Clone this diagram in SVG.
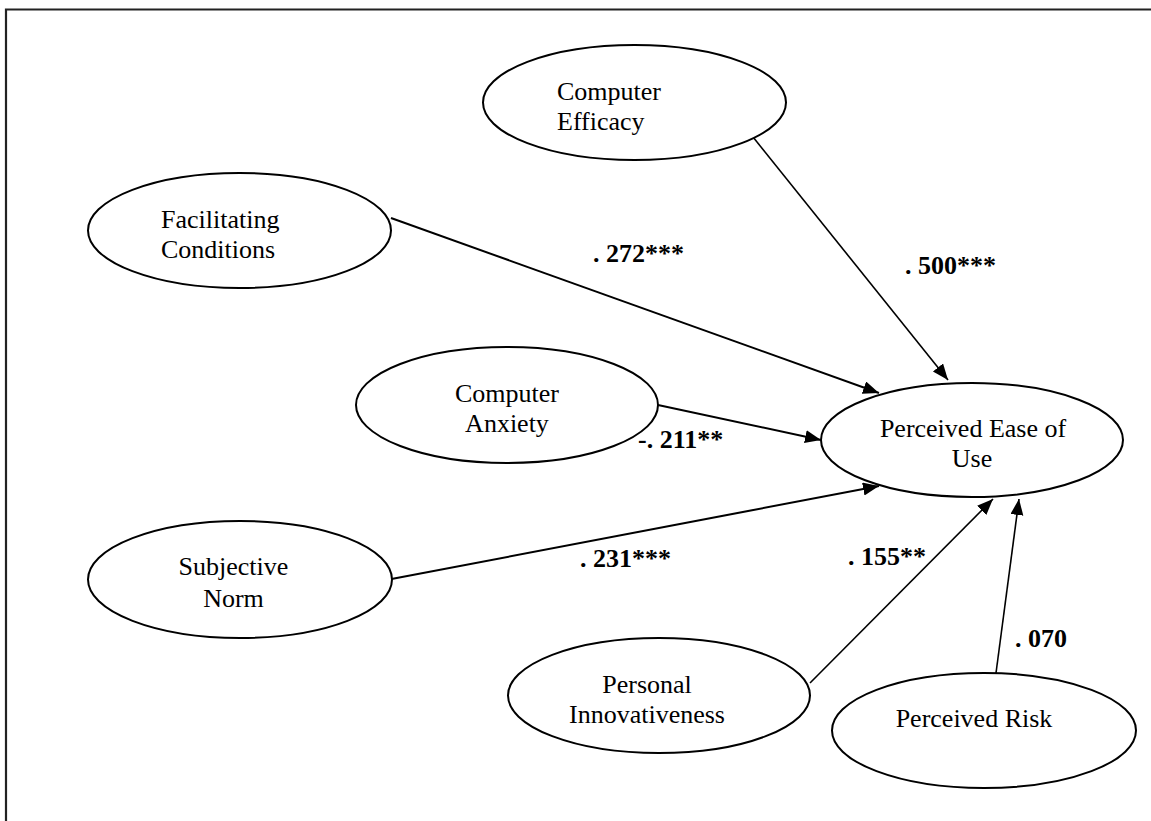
<svg xmlns="http://www.w3.org/2000/svg" width="1151" height="821" viewBox="0 0 1151 821">
<style>
.node ellipse{fill:#fff;stroke:#000;stroke-width:2}
.t{font-family:"Liberation Serif","Times New Roman",serif;font-size:26px;fill:#000}
.c{text-anchor:middle}
.lbl{font-family:"Liberation Serif","Times New Roman",serif;font-size:26px;font-weight:bold;fill:#000}
.edge{stroke:#000;fill:none;marker-end:url(#ah)}
</style>
<defs>
<marker id="ah" markerUnits="userSpaceOnUse" markerWidth="17" markerHeight="14" refX="16" refY="6.5" orient="auto">
<path d="M0,0 L16,6.5 L0,13 z" fill="#000"/>
</marker>
</defs>
<rect width="1151" height="821" fill="#fff"/>
<path d="M6,830 V9.5 H1160" fill="none" stroke="#222" stroke-width="2.2"/>
<g id="connectors">
<line class="edge" x1="753" y1="137" x2="948" y2="380" stroke-width="1.6"/>
<line class="edge" x1="391" y1="218" x2="879" y2="393" stroke-width="2"/>
<line class="edge" x1="658" y1="405" x2="821" y2="440" stroke-width="2"/>
<line class="edge" x1="391.5" y1="579" x2="879" y2="486" stroke-width="2"/>
<line class="edge" x1="810" y1="683" x2="993" y2="499" stroke-width="1.6"/>
<line class="edge" x1="996" y1="673" x2="1019" y2="499" stroke-width="1.6"/>
</g>
<g id="labels">
<text class="lbl" x="593" y="262">. 272***</text>
<text class="lbl" x="905" y="274">. 500***</text>
<text class="lbl" x="638" y="448">-. 211**</text>
<text class="lbl" x="580" y="567">. 231***</text>
<text class="lbl" x="848" y="565">. 155**</text>
<text class="lbl" x="1015" y="647">. 070</text>
</g>
<g id="computer-efficacy" class="node">
<ellipse cx="634.5" cy="102.5" rx="151.5" ry="57.5"/>
<text class="t" x="557" y="100">Computer</text>
<text class="t" x="557" y="130">Efficacy</text>
</g>
<g id="facilitating-conditions" class="node">
<ellipse cx="239.5" cy="230.5" rx="151.5" ry="57.5"/>
<text class="t" x="161" y="228">Facilitating</text>
<text class="t" x="161" y="258">Conditions</text>
</g>
<g id="computer-anxiety" class="node">
<ellipse cx="507" cy="405" rx="151" ry="58"/>
<text class="t c" x="507" y="402">Computer</text>
<text class="t c" x="507" y="432">Anxiety</text>
</g>
<g id="perceived-ease-of-use" class="node">
<ellipse cx="972" cy="440" rx="151" ry="57"/>
<text class="t c" x="973" y="437">Perceived Ease of</text>
<text class="t c" x="972" y="467">Use</text>
</g>
<g id="subjective-norm" class="node">
<ellipse cx="240" cy="579.5" rx="152" ry="58.5"/>
<text class="t c" x="233.5" y="575">Subjective</text>
<text class="t c" x="233.5" y="607">Norm</text>
</g>
<g id="personal-innovativeness" class="node">
<ellipse cx="659" cy="695.5" rx="151" ry="57.5"/>
<text class="t c" x="647" y="693">Personal</text>
<text class="t c" x="647" y="723">Innovativeness</text>
</g>
<g id="perceived-risk" class="node">
<ellipse cx="984" cy="730.5" rx="152" ry="57.5"/>
<text class="t c" x="974" y="727">Perceived Risk</text>
</g>
</svg>
